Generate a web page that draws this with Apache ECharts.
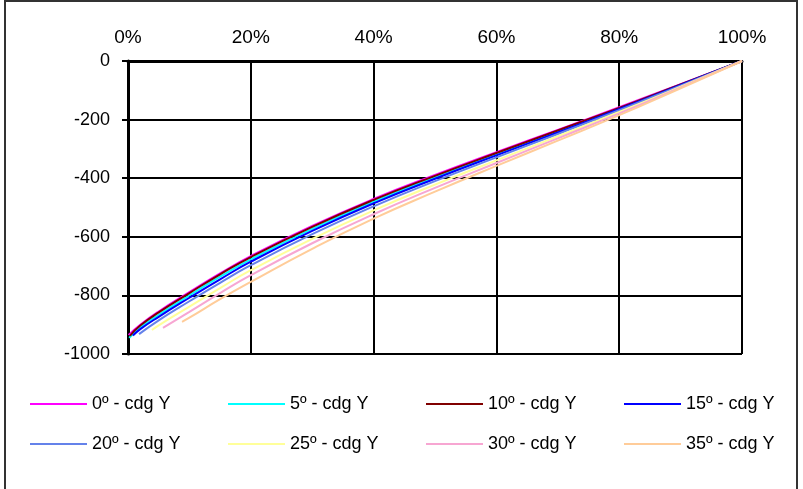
<!DOCTYPE html>
<html>
<head>
<meta charset="utf-8">
<script src="https://cdn.jsdelivr.net/npm/echarts@6/dist/echarts.min.js"></script>
<style>
  html, body { margin: 0; padding: 0; background: #fff; }
  #chart_main { width: 803px; height: 489px; }
</style>
</head>
<body>
<div id="chart_main"></div>
<script>
// series names, in legend order
var seriesNames = ['0º - cdg Y', '5º - cdg Y', '10º - cdg Y', '15º - cdg Y',
                   '20º - cdg Y', '25º - cdg Y', '30º - cdg Y', '35º - cdg Y'];

// [percent, value]
var deg0 = [[0.1,-935],[2,-900],[5,-855],[10,-789],[15,-725],[20,-666],[30,-563],[40,-471],[50,-389],[60,-311],[70,-235],[80,-158],[90,-79],[100,0]];
var deg5 = [[0.2,-945],[2,-910],[5,-866],[10,-800],[15,-736],[20,-677],[30,-573],[40,-480],[50,-397],[60,-318],[70,-240],[80,-162],[90,-81],[100,0]];
var deg10 = [[0.3,-938],[2,-903],[5,-858],[10,-792],[15,-728],[20,-669],[30,-566],[40,-474],[50,-392],[60,-314],[70,-237],[80,-160],[90,-80],[100,0]];
var deg15 = [[0.8,-937],[2,-915],[5,-873],[10,-808],[15,-745],[20,-685],[30,-580],[40,-486],[50,-402],[60,-322],[70,-244],[80,-164],[90,-82],[100,0]];
var deg20 = [[1.8,-932],[5,-885],[10,-820],[15,-757],[20,-697],[30,-591],[40,-496],[50,-410],[60,-329],[70,-249],[80,-168],[90,-84],[100,0]];
var deg25 = [[3.9,-918],[5,-902],[10,-838],[15,-775],[20,-714],[30,-607],[40,-510],[50,-422],[60,-339],[70,-257],[80,-174],[90,-88],[100,0]];
var deg30 = [[5.7,-911],[10,-856],[15,-792],[20,-731],[30,-622],[40,-523],[50,-433],[60,-348],[70,-264],[80,-179],[90,-90],[100,0]];
var deg35 = [[8.8,-890],[10,-876],[15,-813],[20,-754],[30,-641],[40,-538],[50,-446],[60,-358],[70,-272],[80,-185],[90,-93],[100,0]];

var seriesData = [deg0, deg5, deg10, deg15, deg20, deg25, deg30, deg35];
var colors = ['#ff00ff', '#00ffff', '#800000', '#0000ff', '#6482ea', '#ffff99', '#f7a6d2', '#ffcc99'];

var font = '"Liberation Sans", Arial, sans-serif';
var chartDom = document.getElementById('chart_main');
var myChart = echarts.init(chartDom);

var legends = [];
var series = [];
for (var i = 0; i < seriesNames.length; i++) {
    legends.push({
        data: [seriesNames[i]],
        left: 25 + (i % 4) * 198,
        top: 390 + Math.floor(i / 4) * 40,
        icon: 'rect',
        itemWidth: 57,
        itemHeight: 2,
        textStyle: { fontFamily: font, fontSize: 18, color: '#000' }
    });
    series.push({
        name: seriesNames[i],
        type: 'line',
        smooth: true,
        showSymbol: false,
        color: colors[i],
        lineStyle: { width: 2, color: colors[i] },
        data: seriesData[i]
    });
}

myChart.setOption({
    animation: false,
    backgroundColor: '#fff',
    grid: { left: 128, right: 61, top: 61, bottom: 135 },
    legend: legends,
    graphic: [{
        type: 'rect',
        shape: { x: 5, y: 1, width: 792, height: 500 },
        style: { fill: 'none', stroke: '#333', lineWidth: 2 },
        silent: true
    }],
    xAxis: {
        type: 'value',
        position: 'top',
        min: 0,
        max: 100,
        interval: 20,
        axisLine: { show: true, lineStyle: { color: '#000', width: 3 } },
        axisTick: { show: false },
        axisLabel: { formatter: '{value}%', fontFamily: font, fontSize: 19, color: '#000', margin: 14 },
        splitLine: { show: true, lineStyle: { color: '#000', width: 2 } }
    },
    yAxis: {
        type: 'value',
        min: -1000,
        max: 0,
        interval: 200,
        axisLine: { show: true, lineStyle: { color: '#000', width: 3 } },
        axisTick: { show: true, length: 6, lineStyle: { color: '#000', width: 2 } },
        axisLabel: {
            formatter: function (v) { return String(v); },
            fontFamily: font, fontSize: 18, color: '#000', margin: 18
        },
        splitLine: { show: true, lineStyle: { color: '#000', width: 2 } }
    },
    series: series
});

window.addEventListener('resize', function () {
    myChart.resize();
});
</script>
</body>
</html>
